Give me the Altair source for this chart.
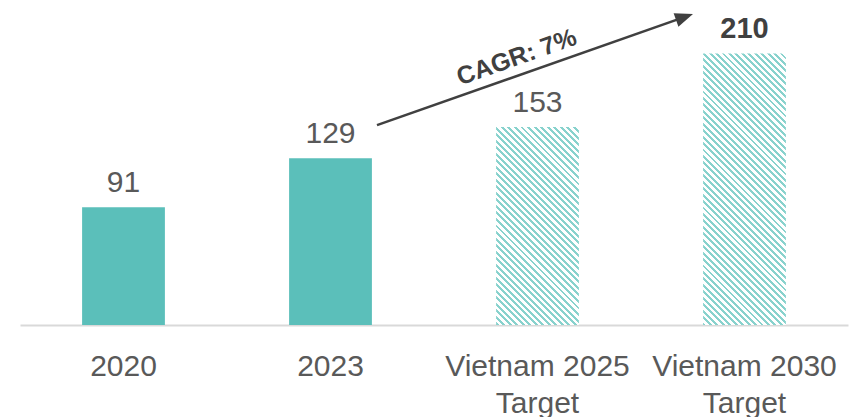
import altair as alt
import pandas as pd

# ---- data ----
categories = ["2020", "2023", "Vietnam 2025\nTarget", "Vietnam 2030\nTarget"]
values = [91, 129, 153, 210]
kinds = ["Actual", "Actual", "Target", "Target"]
cagr_label = "CAGR: 7%"

df = pd.DataFrame({"cat": categories, "value": values, "kind": kinds})

# ---- layout / style ----
FONT = "Liberation Sans"
TEAL = "#5BBFBA"
STRIPE = "#88d2cd"
PLOT_W = 828
PLOT_H = 313
Y_MAX = 242
BAND = 0.4

x_scale = alt.Scale(domain=categories, paddingInner=0, paddingOuter=0)
y_scale = alt.Scale(domain=[0, Y_MAX])


def hatch(value):
    """Diagonal stripe fill expressed as a linear gradient in bbox units."""
    w = BAND * PLOT_W / len(categories)
    h = value / Y_MAX * PLOT_H
    k = (w + h) / (w * w + h * h)
    period = 6.5
    duty = 0.45
    n = max(1, round((w + h) / period))
    stops = []
    for i in range(n):
        a = i / n
        b = (i + duty) / n
        c = (i + 1) / n
        stops += [
            {"offset": a, "color": STRIPE},
            {"offset": b, "color": STRIPE},
            {"offset": b, "color": "#ffffff"},
            {"offset": c, "color": "#ffffff"},
        ]
    return {
        "gradient": "linear",
        "x1": 0, "y1": 1,
        "x2": k * w, "y2": 1 - k * h,
        "stops": stops,
    }


base = alt.Chart(df)

x_axis = alt.Axis(
    title=None, labelAngle=0, labelFontSize=30, labelFont=FONT,
    labelColor="#595959", ticks=False, labelPadding=26,
    domainColor="#d9d9d9", domainWidth=2, labelLineHeight=37,
    grid=False, labelLimit=0, labelOverlap=False,
    labelExpr="split(datum.label, '\\n')",
)

solid = base.transform_filter(alt.datum.kind == "Actual").mark_bar(
    width=alt.RelativeBandSize(BAND), color=TEAL
).encode(
    x=alt.X("cat:N", scale=x_scale, axis=x_axis, sort=categories),
    y=alt.Y("value:Q", scale=y_scale, axis=None),
)

hatched_layers = []
for c, v, k in zip(categories, values, kinds):
    if k != "Target":
        continue
    hatched_layers.append(
        base.transform_filter(alt.datum.cat == c).mark_bar(
            width=alt.RelativeBandSize(BAND), fill=hatch(v), strokeWidth=0
        ).encode(
            x=alt.X("cat:N", scale=x_scale, sort=categories),
            y=alt.Y("value:Q", scale=y_scale),
        )
    )

last_cat = categories[-1]
labels = base.transform_filter(alt.datum.cat != last_cat).mark_text(
    baseline="alphabetic", dy=-15, font=FONT, fontSize=30, color="#595959"
).encode(
    x=alt.X("cat:N", scale=x_scale, sort=categories),
    y=alt.Y("value:Q", scale=y_scale),
    text=alt.Text("value:Q"),
)
label_last = base.transform_filter(alt.datum.cat == last_cat).mark_text(
    baseline="alphabetic", dy=-15, font=FONT, fontSize=29,
    fontWeight="bold", color="#404040"
).encode(
    x=alt.X("cat:N", scale=x_scale, sort=categories),
    y=alt.Y("value:Q", scale=y_scale),
    text=alt.Text("value:Q"),
)

# ---- CAGR arrow annotation (2023 -> 2030 target) ----
arrow_df = pd.DataFrame({
    "c0": [categories[1]], "c1": [categories[3]],
    "v0": [values[1]], "v1": [values[3]],
    "mid": [categories[2]], "vmid": [values[2]],
    "label": [cagr_label],
})
arrow_base = alt.Chart(arrow_df)

ARROW_COLOR = "#404040"
ANGLE = 340.6

arrow_line = arrow_base.mark_rule(
    color=ARROW_COLOR, strokeWidth=2.5,
    xOffset=46.5, yOffset=-33, x2Offset=-61, y2Offset=-36,
).encode(
    x=alt.X("c0:N", scale=x_scale),
    x2="c1:N",
    y=alt.Y("v0:Q", scale=y_scale),
    y2="v1:Q",
)

arrow_head = arrow_base.mark_point(
    shape="M0,0 L-2,-0.8 L-2,0.8 Z", size=324, filled=True,
    color=ARROW_COLOR, opacity=1, strokeWidth=0, angle=ANGLE,
    xOffset=-51.5, yOffset=-39.4,
).encode(
    x=alt.X("c1:N", scale=x_scale),
    y=alt.Y("v1:Q", scale=y_scale),
)

arrow_text = arrow_base.mark_text(
    font=FONT, fontSize=25, fontWeight="bold", color=ARROW_COLOR,
    angle=ANGLE, align="center", baseline="middle",
    xOffset=-21, yOffset=-70,
).encode(
    x=alt.X("mid:N", scale=x_scale),
    y=alt.Y("vmid:Q", scale=y_scale),
    text="label:N",
)

chart = alt.layer(
    solid, *hatched_layers, labels, label_last, arrow_line, arrow_head, arrow_text
).properties(
    width=PLOT_W, height=PLOT_H,
    padding={"left": 12, "top": 4, "right": 8, "bottom": 92},
    autosize=alt.AutoSizeParams(type="none"),
).configure(background="white").configure_view(stroke=None)

chart.save("out.html", embed_options={"renderer": "svg", "actions": False})
